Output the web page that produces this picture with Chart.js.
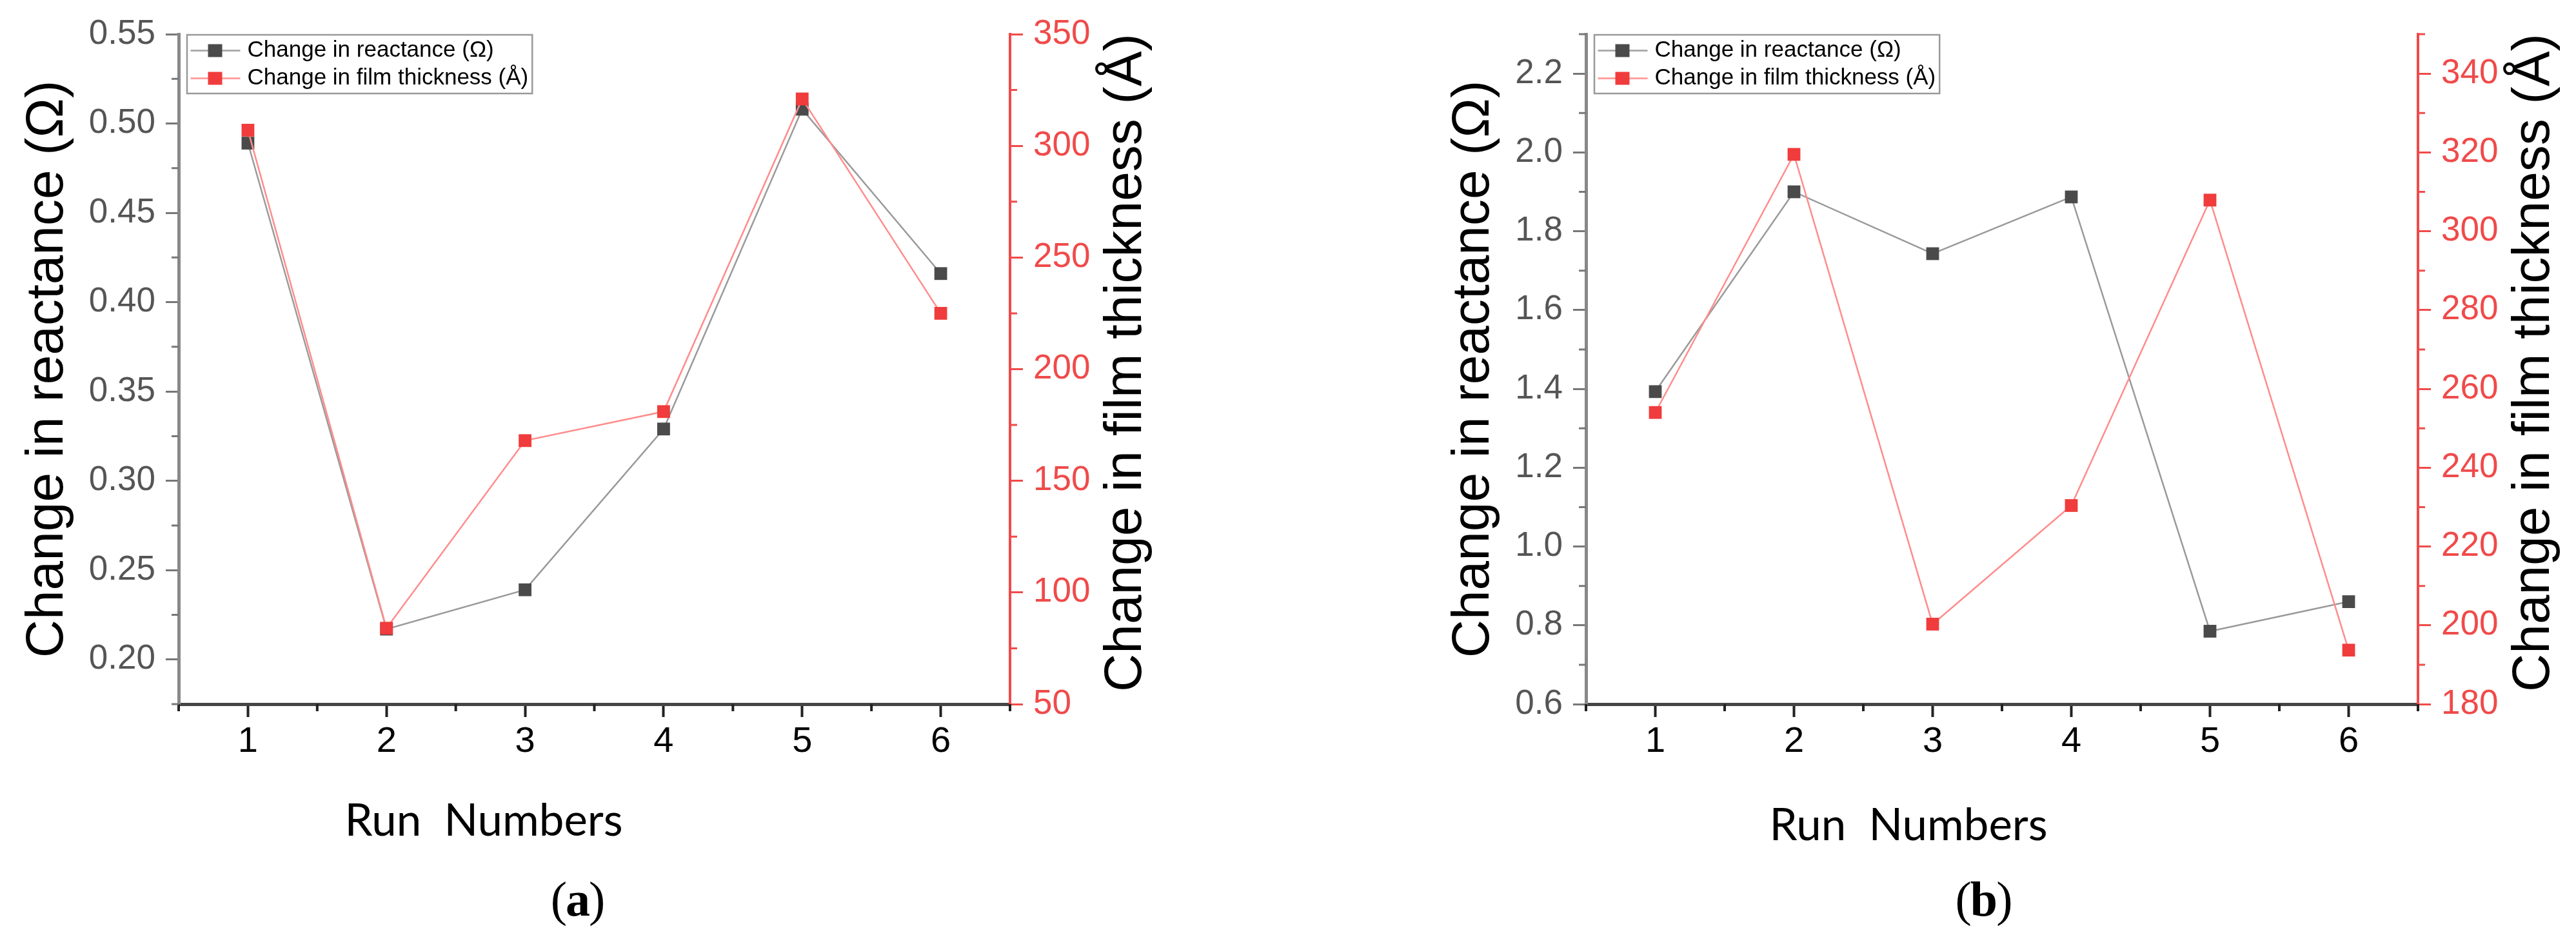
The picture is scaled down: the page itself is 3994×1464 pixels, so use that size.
<!DOCTYPE html>
<html>
<head>
<meta charset="utf-8">
<script src="https://cdn.jsdelivr.net/npm/chart.js@4.4.1/dist/chart.umd.min.js"></script>
<style>
  html, body { margin: 0; padding: 0; background: #fff; overflow: hidden; }
  body { width: 3994px; height: 1464px; position: relative; }
  canvas { position: absolute; top: 0; }
  .runs { position: absolute; font-family: Lato, sans-serif; font-size: 69px; line-height: 1; white-space: pre; color: #000; transform: translateX(-50%); }
  .cap { position: absolute; font-family: 'Liberation Serif', serif; font-size: 76px; letter-spacing: -2px; line-height: 1; color: #000; transform: translateX(-50%); }
</style>
</head>
<body>
<canvas id="chartA" width="1806" height="1200" style="left:0px"></canvas>
<canvas id="chartB" width="1807" height="1200" style="left:2182px"></canvas>
<div class="runs" style="left:750px; top:1235px">Run  Numbers</div>
<div class="runs" style="left:2959px; top:1242px">Run  Numbers</div>
<div class="cap" style="left:895px; top:1356px">(<b>a</b>)</div>
<div class="cap" style="left:3075px; top:1356px">(<b>b</b>)</div>
<script>
// values
const runs = [1, 2, 3, 4, 5, 6]

const reactanceA = [0.489, 0.217, 0.239, 0.329, 0.508, 0.416]
const thicknessA = [307, 84, 168, 181, 321, 225]
const reactanceTicksA = [0.20, 0.25, 0.30, 0.35, 0.40, 0.45, 0.50, 0.55]
const thicknessTicksA = [50, 100, 150, 200, 250, 300, 350]

const reactanceB = [1.393, 1.900, 1.743, 1.887, 0.785, 0.860]
const thicknessB = [254, 319.5, 200.3, 230.4, 307.9, 193.7]
const reactanceTicksB = [0.6, 0.8, 1.0, 1.2, 1.4, 1.6, 1.8, 2.0, 2.2]
const thicknessTicksB = [180, 200, 220, 240, 260, 280, 300, 320, 340]

const GRAY_LINE = '#9a9a9a'
const GRAY_MARK = '#4a4a4a'
const RED_LINE = '#ff8c8c'
const RED_MARK = '#f03c3c'
const RED_AXIS = '#f04a4a'
const SANS = "'Liberation Sans', Arial, sans-serif"

Chart.defaults.font.family = SANS

function legendIcon(line, mark) {
    const c = document.createElement('canvas')
    c.width = 100
    c.height = 24
    const g = c.getContext('2d')
    g.strokeStyle = line
    g.lineWidth = 2.5
    g.beginPath()
    g.moveTo(20, 12)
    g.lineTo(97, 12)
    g.stroke()
    g.fillStyle = mark
    g.fillRect(47, 2, 22, 20)
    return c
}
const icons = [legendIcon(GRAY_LINE, GRAY_MARK), legendIcon(RED_LINE, RED_MARK)]

// half-step ticks between the labelled ones
function minorsOf(ticks, min, max) {
    const h = (ticks[1] - ticks[0]) / 2
    const eps = Math.abs(h) * 1e-3
    const out = []
    if (ticks[0] - h >= min - eps) out.push(ticks[0] - h)
    for (let i = 0; i < ticks.length - 1; i++) out.push((ticks[i] + ticks[i + 1]) / 2)
    if (ticks[ticks.length - 1] + h <= max + eps) out.push(ticks[ticks.length - 1] + h)
    return out
}

function makeChart(id, c) {
    const minors = {
        x: minorsOf(runs, 0.5, 6.5),
        y: minorsOf(c.yTicks, c.yMin, c.yMax),
        y1: minorsOf(c.y1Ticks, c.y1Min, c.y1Max)
    }

    const extras = {
        id: 'extras',
        // keep the legend inside the plot, top left
        afterLayout(chart) {
            const lg = chart.legend
            lg.top = chart.chartArea.top
            lg.bottom = lg.top + lg.height
            lg.left = chart.chartArea.left
            lg.right = lg.left + lg.width
        },
        afterDraw(chart) {
            const ctx = chart.ctx
            const {x, y, y1} = chart.scales
            const len = 11
            ctx.save()
            // minor ticks
            ctx.lineWidth = 4
            ctx.strokeStyle = '#222'
            ctx.beginPath()
            minors.x.forEach(v => {
                const p = x.getPixelForValue(v)
                ctx.moveTo(p, x.top)
                ctx.lineTo(p, x.top + len)
            })
            ctx.stroke()
            ctx.lineWidth = 3
            ctx.strokeStyle = '#777'
            ctx.beginPath()
            minors.y.forEach(v => {
                const p = y.getPixelForValue(v)
                ctx.moveTo(y.right - len, p)
                ctx.lineTo(y.right, p)
            })
            ctx.stroke()
            ctx.strokeStyle = RED_AXIS
            ctx.beginPath()
            minors.y1.forEach(v => {
                const p = y1.getPixelForValue(v)
                ctx.moveTo(y1.left, p)
                ctx.lineTo(y1.left + len, p)
            })
            ctx.stroke()

            // right axis title, reading bottom to top
            ctx.fillStyle = '#000'
            ctx.font = '82px ' + SANS
            ctx.textAlign = 'center'
            ctx.textBaseline = 'middle'
            ctx.translate(y1.left + 180, (y1.top + y1.bottom) / 2 - 10)
            ctx.rotate(-Math.PI / 2)
            ctx.fillText('Change in film thickness (Å)', 0, 0)
            ctx.restore()

            // legend frame
            const hb = chart.legend.legendHitBoxes
            if (hb && hb.length) {
                const left = chart.chartArea.left + 13
                const top = chart.chartArea.top + 1
                const right = Math.max(...hb.map(b => b.left + b.width)) + 6
                const bottom = top + 91
                ctx.save()
                ctx.strokeStyle = '#999'
                ctx.lineWidth = 2.5
                ctx.strokeRect(left, top, right - left, bottom - top)
                ctx.restore()
            }
        }
    }

    return new Chart(document.getElementById(id), {
        type: 'line',
        data: {
            datasets: [
                {
                    label: 'Change in reactance (Ω)',
                    data: runs.map((r, i) => ({x: r, y: c.reactance[i]})),
                    yAxisID: 'y',
                    borderColor: GRAY_LINE,
                    borderWidth: 2.5,
                    pointStyle: 'rect',
                    pointRadius: 14,
                    pointBackgroundColor: GRAY_MARK,
                    pointBorderWidth: 0,
                    order: 1
                },
                {
                    label: 'Change in film thickness (Å)',
                    data: runs.map((r, i) => ({x: r, y: c.thickness[i]})),
                    yAxisID: 'y1',
                    borderColor: RED_LINE,
                    borderWidth: 2.5,
                    pointStyle: 'rect',
                    pointRadius: 14,
                    pointBackgroundColor: RED_MARK,
                    pointBorderWidth: 0,
                    order: 0
                }
            ]
        },
        options: {
            responsive: false,
            animation: false,
            devicePixelRatio: 1,
            layout: {padding: {top: 53, left: 0, right: 0, bottom: 0}},
            plugins: {
                tooltip: {enabled: false},
                legend: {
                    position: 'chartArea',
                    align: 'start',
                    labels: {
                        usePointStyle: true,
                        pointStyleWidth: 81,
                        boxHeight: 34,
                        padding: 8,
                        color: '#000',
                        font: {size: 35},
                        generateLabels(chart) {
                            return Chart.defaults.plugins.legend.labels.generateLabels(chart)
                                .map(item => Object.assign(item, {pointStyle: icons[item.datasetIndex]}))
                        },
                        sort: (a, b) => a.datasetIndex - b.datasetIndex
                    }
                }
            },
            scales: {
                x: {
                    type: 'linear',
                    min: 0.5,
                    max: 6.5,
                    afterBuildTicks: s => { s.ticks = runs.map(v => ({value: v})) },
                    afterFit: s => { s.height = 108 },
                    grid: {drawOnChartArea: false, tickLength: 20, tickWidth: 4, tickColor: '#222'},
                    border: {width: 5, color: '#444'},
                    ticks: {font: {size: 56}, color: '#000', padding: 5, maxRotation: 0, autoSkip: false,
                        callback: v => String(v)}
                },
                y: {
                    type: 'linear',
                    position: 'left',
                    min: c.yMin,
                    max: c.yMax,
                    afterBuildTicks: s => { s.ticks = c.yTicks.map(v => ({value: v})) },
                    afterFit: s => { s.width = 277 },
                    title: {display: true, text: 'Change in reactance (Ω)', color: '#000',
                        font: {size: 82}, padding: {top: c.titlePad, bottom: 0}},
                    grid: {drawOnChartArea: false, tickLength: 20, tickWidth: 3, tickColor: '#777'},
                    border: {width: 5, color: '#888'},
                    ticks: {font: {size: 53}, color: '#555', padding: 16, autoSkip: false,
                        callback: v => v.toFixed(c.dec)}
                },
                y1: {
                    type: 'linear',
                    position: 'right',
                    min: c.y1Min,
                    max: c.y1Max,
                    afterBuildTicks: s => { s.ticks = c.y1Ticks.map(v => ({value: v})) },
                    afterFit: s => { s.width = 240 },
                    grid: {drawOnChartArea: false, tickLength: 20, tickWidth: 3, tickColor: RED_AXIS},
                    border: {width: 4, color: RED_AXIS},
                    ticks: {font: {size: 53}, color: RED_AXIS, padding: 16, autoSkip: false,
                        callback: v => String(v)}
                }
            }
        },
        plugins: [extras]
    })
}

makeChart('chartA', {
    reactance: reactanceA, thickness: thicknessA,
    yMin: 0.175, yMax: 0.55, yTicks: reactanceTicksA, dec: 2,
    y1Min: 50, y1Max: 350, y1Ticks: thicknessTicksA,
    titlePad: 25
})

makeChart('chartB', {
    reactance: reactanceB, thickness: thicknessB,
    yMin: 0.6, yMax: 2.3, yTicks: reactanceTicksB, dec: 1,
    y1Min: 180, y1Max: 350, y1Ticks: thicknessTicksB,
    titlePad: 54
})
</script>
</body>
</html>
